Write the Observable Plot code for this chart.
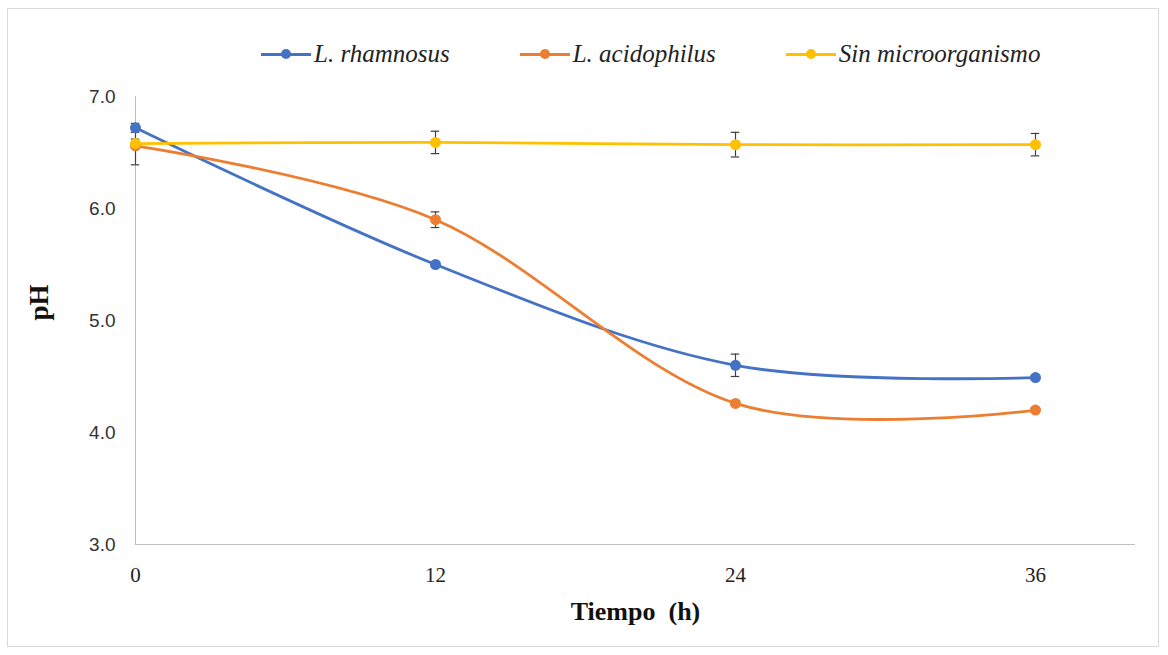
<!DOCTYPE html>
<html>
<head>
<meta charset="utf-8">
<script src="https://cdn.jsdelivr.net/npm/d3@7"></script>
<script src="https://cdn.jsdelivr.net/npm/@observablehq/plot@0.6"></script>
<style>
  html, body { margin: 0; padding: 0; background: #fff; }
  #wrap { position: relative; width: 1168px; height: 655px; overflow: hidden; }
  #border { position: absolute; left: 7px; top: 8px; width: 1152px; height: 639px; border: 1px solid #d9d9d9; box-sizing: border-box; }
  #chart { position: absolute; left: 0; top: 0; }
  #legend { position: absolute; top: 40px; left: 261px; display: flex; gap: 70px; align-items: center;
            font-family: "Liberation Serif", "Times New Roman", serif; font-style: italic; font-size: 25px; color: #222; }
  .item { display: flex; align-items: center; }
  .mk { position: relative; width: 50px; height: 14px; margin-right: 3px; }
  .mk .ln { position: absolute; left: 0; right: 0; top: 6px; height: 2.6px; }
  .mk .dt { position: absolute; left: 20px; top: 2px; width: 10px; height: 10px; border-radius: 50%; }
  svg text { font-family: "Liberation Serif", "Times New Roman", serif; white-space: pre; }
  g[aria-label="y-axis tick label"] text { font-family: "Liberation Sans", Arial, sans-serif; }
</style>
</head>
<body>
<div id="wrap">
  <div id="border"></div>
  <div id="chart"></div>
  <div id="legend"></div>
</div>
<script>
// ---- data ----
const times = [0, 12, 24, 36];
const seriesNames = ["L. rhamnosus", "L. acidophilus", "Sin microorganismo"];
const seriesColors = ["#4472C4", "#ED7D31", "#FFC000"];
const rhamnosus = [6.72, 5.50, 4.60, 4.49];
const rhamnosusSD = [0.04, 0.02, 0.10, 0.02];
const acidophilus = [6.56, 5.90, 4.26, 4.20];
const acidophilusSD = [0.17, 0.07, 0.02, 0.02];
const sinMicro = [6.58, 6.59, 6.57, 6.57];
const sinMicroSD = [0.04, 0.10, 0.11, 0.10];
const yTicks = [3, 4, 5, 6, 7];
const xTicks = [0, 12, 24, 36];
const xLabel = "Tiempo  (h)";
const yLabel = "pH";

const valueSets = [rhamnosus, acidophilus, sinMicro];
const sdSets = [rhamnosusSD, acidophilusSD, sinMicroSD];
const rows = [];
seriesNames.forEach((s, i) => {
  times.forEach((t, j) => rows.push({series: s, t, ph: valueSets[i][j], sd: sdSets[i][j]}));
});

const capHalf = 0.17; // hours
const chart = Plot.plot({
  width: 1168,
  height: 655,
  marginLeft: 135,
  marginRight: 33,
  marginTop: 96,
  marginBottom: 111,
  style: {background: "transparent", overflow: "visible"},
  x: {domain: [0, 40]},
  y: {domain: [3, 7]},
  color: {domain: seriesNames, range: seriesColors},
  marks: [
    Plot.ruleY([3], {stroke: "#bfbfbf", strokeWidth: 1}),
    Plot.ruleX([0], {stroke: "#bfbfbf", strokeWidth: 1}),
    Plot.axisY({ticks: yTicks, tickFormat: d3.format(".1f"), tickSize: 0, tickPadding: 20, fontSize: 19, fill: "#333", label: null}),
    Plot.axisX({ticks: xTicks, tickSize: 0, tickPadding: 23, fontSize: 21, fill: "#222", label: null}),
    Plot.text([yLabel], {frameAnchor: "left", dx: -96, rotate: -90, fontSize: 27, fontWeight: "bold", fill: "#111"}),
    Plot.text([xLabel], {frameAnchor: "bottom", dy: 75, fontSize: 26, fontWeight: "bold", fill: "#111"}),
    Plot.ruleX(rows, {x: "t", y1: d => d.ph - d.sd, y2: d => d.ph + d.sd, stroke: "#404040", strokeWidth: 1.2}),
    Plot.ruleY(rows, {y: d => d.ph - d.sd, x1: d => d.t - capHalf, x2: d => d.t + capHalf, stroke: "#404040", strokeWidth: 1.2}),
    Plot.ruleY(rows, {y: d => d.ph + d.sd, x1: d => d.t - capHalf, x2: d => d.t + capHalf, stroke: "#404040", strokeWidth: 1.2}),
    Plot.line(rows, {x: "t", y: "ph", z: "series", stroke: "series", curve: "cardinal", strokeWidth: 2.8}),
    Plot.dot(rows, {x: "t", y: "ph", fill: "series", r: 5.5})
  ]
});
document.getElementById("chart").appendChild(chart);

const legend = document.getElementById("legend");
seriesNames.forEach((s, i) => {
  const item = document.createElement("div");
  item.className = "item";
  item.innerHTML = `<span class="mk"><span class="ln" style="background:${seriesColors[i]}"></span><span class="dt" style="background:${seriesColors[i]}"></span></span><span>${s}</span>`;
  legend.appendChild(item);
});
</script>
</body>
</html>
